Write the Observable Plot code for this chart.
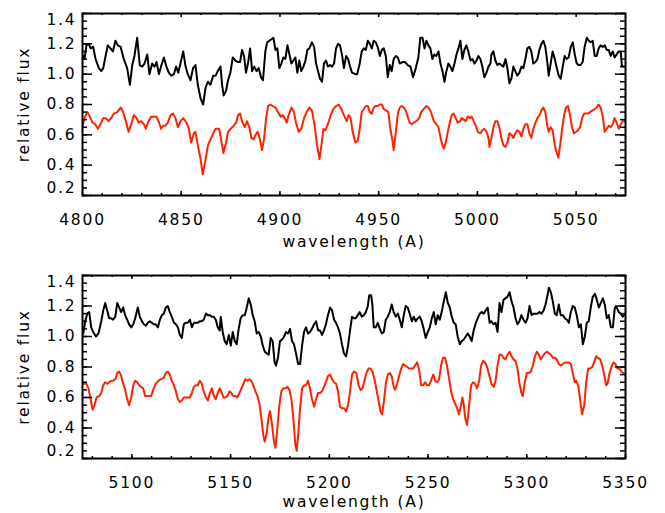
<!DOCTYPE html>
<html><head><meta charset="utf-8">
<script src="https://cdn.jsdelivr.net/npm/d3@7"></script>
<script src="https://cdn.jsdelivr.net/npm/@observablehq/plot@0.6"></script>
<style>
html,body{margin:0;padding:0;background:#fff;}
#chart svg{display:block;}
#chart text{letter-spacing:1.8px;}
</style></head><body><div id="chart"></div>
<script>
// ---- data: [wavelength (A), relative flux] ----
const topObserved = [[4800.4,1.12],[4801.0,1.10],[4802.0,1.19],[4803.2,1.20],[4804.1,1.17],[4805.4,1.18],[4806.6,1.10],[4808.3,1.04],[4809.5,1.02],[4810.5,1.04],[4811.7,1.12],[4812.8,1.19],[4814.2,1.17],[4815.4,1.15],[4816.7,1.22],[4817.9,1.19],[4819.3,1.18],[4820.9,1.10],[4822.6,1.04],[4824.0,0.93],[4825.2,1.06],[4826.3,1.12],[4827.7,1.24],[4829.0,1.06],[4830.2,1.05],[4831.4,1.07],[4832.8,1.13],[4833.9,1.00],[4835.3,1.07],[4836.5,1.05],[4837.5,1.08],[4838.7,1.00],[4840.0,1.06],[4841.2,1.11],[4842.5,1.05],[4843.7,1.01],[4844.9,0.99],[4846.3,1.00],[4847.4,1.05],[4848.5,1.01],[4849.6,1.07],[4851.0,1.15],[4852.2,1.05],[4853.3,1.00],[4854.7,0.96],[4856.0,1.04],[4857.2,1.06],[4858.4,0.93],[4859.8,0.84],[4861.1,0.80],[4862.3,0.91],[4863.5,0.95],[4864.8,0.93],[4866.2,0.99],[4867.4,0.99],[4868.5,1.02],[4869.9,1.05],
[4870.7,0.93],[4871.5,0.86],[4872.7,0.89],[4873.7,0.96],[4874.9,1.01],[4876.1,1.11],[4877.4,1.09],[4878.8,1.08],[4879.8,1.08],[4880.8,1.16],[4881.8,1.12],[4882.8,1.01],[4883.8,1.07],[4884.9,1.17],[4885.9,1.02],[4887.0,1.05],[4888.1,1.02],[4889.2,1.04],[4890.4,0.98],[4891.4,0.96],[4892.6,1.15],[4893.5,1.21],[4894.6,1.22],[4895.7,1.23],[4896.7,1.24],[4897.7,1.16],[4898.7,1.17],[4899.7,1.04],[4900.7,1.07],[4901.7,1.11],[4902.7,1.10],[4903.8,1.19],[4904.8,1.13],[4905.8,1.07],[4906.8,1.09],[4907.8,1.11],[4908.8,1.01],[4909.8,1.09],[4910.8,1.02],[4911.9,1.05],[4912.9,1.09],[4913.9,1.16],[4914.9,1.17],[4916.2,1.21],[4917.3,1.18],[4918.3,1.07],[4919.3,1.02],[4920.3,0.97],[4921.3,0.95],[4922.3,1.07],[4923.3,1.09],[4924.3,1.05],[4925.4,1.06],[4926.4,1.05],[4927.4,1.07],[4928.4,1.17],[4929.4,1.20],[4930.4,1.19],[4931.4,1.13],[4932.4,1.04],[4933.5,1.12],[4934.5,1.10],[4935.5,1.05],[4936.5,1.01],[4938.2,1.00],
[4939.1,1.00],[4940.4,1.07],[4941.4,1.15],[4942.5,1.17],[4943.5,1.16],[4944.5,1.22],[4945.5,1.20],[4946.5,1.17],[4947.5,1.22],[4948.5,1.21],[4949.5,1.18],[4950.6,1.12],[4951.6,1.16],[4952.6,1.17],[4953.6,1.12],[4954.6,0.98],[4955.6,1.06],[4956.6,1.02],[4957.6,1.10],[4958.7,1.12],[4959.7,1.11],[4960.7,1.07],[4962.0,1.08],[4963.4,1.08],[4964.7,1.06],[4966.1,1.05],[4967.4,0.98],[4968.8,1.04],[4970.1,1.11],[4971.1,1.24],[4972.2,1.24],[4973.2,1.17],[4974.2,1.22],[4975.2,1.19],[4976.2,1.17],[4977.2,1.10],[4978.2,1.13],[4979.2,1.12],[4980.3,1.15],[4981.3,1.07],[4982.3,1.02],[4983.3,0.95],[4984.3,1.02],[4985.3,1.07],[4986.3,1.05],[4987.3,1.02],[4988.4,1.07],[4989.4,1.13],[4990.4,1.17],[4991.4,1.22],[4992.4,1.10],[4993.4,1.16],[4994.4,1.19],[4995.4,1.15],[4996.5,1.09],[4997.5,1.10],[4998.5,1.07],[4999.5,1.09],[5000.5,1.12],[5001.5,1.10],[5002.5,1.05],[5003.5,0.98],[5004.6,1.01],[5005.6,1.05],[5006.6,1.07],
[5007.1,1.13],[5008.1,1.15],[5009.1,1.09],[5010.1,1.06],[5011.1,1.07],[5012.1,1.06],[5013.2,1.05],[5014.2,1.10],[5015.2,1.04],[5016.2,0.94],[5017.2,0.97],[5018.2,1.05],[5019.2,1.02],[5020.2,0.99],[5021.3,1.01],[5022.3,1.05],[5023.3,1.04],[5024.3,1.10],[5025.3,1.17],[5026.3,1.18],[5027.3,1.15],[5028.3,1.07],[5029.4,1.08],[5030.4,1.10],[5031.4,1.16],[5032.4,1.20],[5033.4,1.22],[5034.4,1.18],[5035.4,1.08],[5036.1,0.99],[5037.1,1.07],[5038.1,1.15],[5039.2,1.10],[5040.2,1.04],[5041.2,0.99],[5042.2,0.97],[5043.2,1.05],[5044.2,1.12],[5045.2,1.10],[5046.2,1.11],[5047.3,1.18],[5048.3,1.21],[5049.3,1.13],[5050.3,1.07],[5051.3,1.06],[5052.3,1.06],[5053.3,1.08],[5054.3,1.18],[5055.4,1.24],[5056.4,1.22],[5057.4,1.21],[5058.4,1.22],[5059.4,1.12],[5060.4,1.12],[5061.4,1.17],[5062.4,1.19],[5063.5,1.18],[5064.5,1.19],[5065.5,1.16],[5066.5,1.16],[5067.5,1.12],[5068.5,1.15],[5069.5,1.11],[5070.5,1.13],[5071.6,1.15],[5072.6,1.15],[5073.2,1.05],[5074.1,1.05]];

const topModel = [[4800.0,0.65],[4801.0,0.71],[4802.4,0.75],[4803.7,0.72],[4805.1,0.68],[4806.4,0.67],[4807.8,0.64],[4809.1,0.67],[4810.5,0.71],[4811.8,0.71],[4813.2,0.69],[4814.5,0.71],[4815.9,0.74],[4817.6,0.75],[4819.3,0.78],[4820.6,0.75],[4822.0,0.69],[4823.3,0.62],[4824.7,0.67],[4826.0,0.73],[4827.4,0.71],[4828.5,0.68],[4829.7,0.69],[4831.1,0.67],[4832.1,0.64],[4833.4,0.69],[4834.8,0.72],[4836.1,0.72],[4837.5,0.72],[4838.8,0.68],[4839.8,0.64],[4840.8,0.66],[4842.0,0.66],[4843.2,0.68],[4844.6,0.73],[4845.9,0.74],[4847.1,0.71],[4848.3,0.65],[4849.6,0.69],[4851.0,0.71],[4852.7,0.68],[4853.9,0.64],[4855.0,0.55],[4856.4,0.61],[4857.2,0.62],[4858.4,0.53],[4859.8,0.44],[4860.9,0.34],[4862.1,0.42],[4863.5,0.53],[4864.8,0.57],[4866.2,0.61],[4867.4,0.64],[4868.5,0.64],[4869.2,0.64],
[4870.2,0.57],[4871.4,0.48],[4872.7,0.55],[4873.7,0.62],[4875.1,0.64],[4876.6,0.66],[4877.8,0.68],[4878.8,0.73],[4879.8,0.74],[4880.8,0.69],[4882.2,0.65],[4883.3,0.69],[4884.5,0.65],[4885.5,0.58],[4886.7,0.57],[4887.7,0.60],[4888.7,0.62],[4889.7,0.58],[4890.9,0.50],[4891.9,0.57],[4893.0,0.71],[4894.0,0.79],[4895.1,0.80],[4896.3,0.79],[4897.7,0.78],[4899.0,0.75],[4900.4,0.72],[4901.4,0.73],[4902.4,0.71],[4903.4,0.68],[4904.4,0.73],[4905.8,0.78],[4907.1,0.75],[4908.1,0.68],[4909.5,0.62],[4910.8,0.64],[4912.2,0.71],[4913.5,0.75],[4914.9,0.78],[4916.2,0.76],[4917.6,0.66],[4918.6,0.55],[4920.0,0.44],[4921.0,0.53],[4922.0,0.64],[4923.0,0.63],[4924.3,0.67],[4925.7,0.73],[4927.0,0.77],[4928.4,0.79],[4929.7,0.80],[4931.1,0.77],[4932.4,0.73],[4933.8,0.69],[4934.8,0.73],[4935.8,0.71],[4936.8,0.62],[4938.2,0.55],
[4939.4,0.56],[4940.4,0.64],[4941.4,0.75],[4942.5,0.77],[4943.5,0.79],[4944.5,0.79],[4945.5,0.75],[4946.5,0.74],[4947.5,0.78],[4948.5,0.79],[4949.5,0.79],[4950.6,0.80],[4951.6,0.80],[4952.6,0.77],[4953.9,0.76],[4954.9,0.75],[4955.9,0.64],[4957.0,0.56],[4957.6,0.50],[4958.7,0.62],[4959.7,0.74],[4960.7,0.78],[4961.7,0.79],[4962.7,0.78],[4963.7,0.76],[4964.7,0.72],[4965.7,0.68],[4966.8,0.67],[4967.8,0.68],[4969.1,0.69],[4970.5,0.71],[4971.5,0.75],[4972.8,0.77],[4974.2,0.79],[4975.2,0.78],[4976.5,0.75],[4977.9,0.69],[4979.2,0.67],[4980.3,0.65],[4981.3,0.58],[4982.3,0.53],[4983.0,0.51],[4984.0,0.55],[4985.0,0.62],[4986.0,0.68],[4987.0,0.73],[4988.0,0.74],[4989.0,0.71],[4990.0,0.68],[4991.1,0.69],[4992.1,0.71],[4993.1,0.70],[4994.1,0.69],[4995.1,0.72],[4996.1,0.71],[4997.1,0.72],[4998.1,0.69],[4999.2,0.66],[5000.2,0.62],[5001.5,0.61],[5002.5,0.63],[5003.5,0.64],[5004.6,0.62],[5005.6,0.58],
[5006.1,0.52],[5007.1,0.58],[5008.1,0.65],[5009.1,0.69],[5010.1,0.69],[5011.1,0.65],[5012.1,0.58],[5013.2,0.53],[5014.2,0.52],[5015.2,0.55],[5016.2,0.61],[5017.2,0.60],[5018.2,0.58],[5019.2,0.61],[5020.2,0.63],[5021.3,0.62],[5022.3,0.59],[5023.3,0.64],[5024.3,0.67],[5025.3,0.67],[5026.3,0.61],[5027.3,0.58],[5028.3,0.64],[5029.4,0.68],[5030.4,0.71],[5031.4,0.73],[5032.4,0.76],[5033.4,0.78],[5034.4,0.75],[5035.4,0.66],[5036.1,0.62],[5037.1,0.65],[5038.1,0.63],[5039.2,0.53],[5040.2,0.48],[5041.0,0.45],[5041.9,0.53],[5042.9,0.64],[5043.9,0.73],[5044.9,0.78],[5045.9,0.79],[5046.9,0.73],[5047.9,0.65],[5048.9,0.61],[5050.0,0.62],[5051.0,0.63],[5052.0,0.65],[5053.0,0.71],[5054.0,0.74],[5055.0,0.74],[5056.0,0.74],[5057.0,0.75],[5058.1,0.76],[5059.4,0.77],[5060.4,0.78],[5061.4,0.80],[5062.4,0.78],[5063.5,0.72],[5064.5,0.62],[5065.5,0.64],[5066.5,0.66],[5067.5,0.65],[5068.5,0.67],[5069.5,0.71],[5070.5,0.68],[5071.6,0.64],[5072.6,0.67],[5073.6,0.69],[5074.6,0.69]];

const bottomObserved = [[5075.4,1.02],[5076.4,1.10],[5077.4,1.15],[5078.4,1.16],[5079.4,1.06],[5080.4,1.03],[5081.8,1.00],[5083.1,1.02],[5084.5,1.10],[5085.5,1.17],[5086.5,1.22],[5087.5,1.17],[5088.5,1.12],[5089.5,1.12],[5090.5,1.11],[5091.6,1.13],[5092.6,1.22],[5093.6,1.19],[5094.6,1.16],[5095.6,1.19],[5096.6,1.14],[5097.6,1.11],[5098.6,1.08],[5099.7,1.06],[5100.7,1.08],[5101.7,1.12],[5103.0,1.19],[5104.0,1.13],[5105.1,1.10],[5106.1,1.08],[5107.1,1.07],[5108.1,1.09],[5109.1,1.10],[5110.1,1.09],[5111.1,1.08],[5112.1,1.08],[5113.2,1.06],[5114.2,1.11],[5115.2,1.14],[5116.2,1.15],[5117.2,1.19],[5118.2,1.20],[5119.2,1.16],[5120.2,1.13],[5121.3,1.09],[5122.3,1.08],[5123.3,1.06],[5124.3,1.01],[5125.3,0.99],[5126.3,1.08],[5127.3,1.09],[5128.3,1.09],[5129.4,1.11],[5130.4,1.06],[5131.4,1.09],[5132.4,1.09],[5133.4,1.09],[5134.4,1.10],[5135.4,1.10],[5136.4,1.11],[5137.5,1.15],[5138.5,1.14],[5139.5,1.14],[5140.5,1.13],[5141.5,1.13],[5142.5,1.11],[5143.5,1.06],[5144.5,1.04],
[5145.0,1.13],[5146.0,1.03],[5147.0,0.97],[5148.0,0.95],[5149.1,1.01],[5150.1,0.94],[5151.1,1.03],[5152.1,0.97],[5153.1,0.95],[5154.1,1.05],[5155.1,1.12],[5156.1,1.14],[5157.2,1.14],[5158.2,1.19],[5159.2,1.25],[5160.2,1.21],[5161.2,1.14],[5162.2,1.10],[5163.2,1.02],[5164.2,1.03],[5165.3,1.00],[5166.3,0.94],[5167.3,0.90],[5168.3,0.89],[5169.3,0.88],[5170.3,0.99],[5171.3,0.97],[5172.3,0.83],[5173.0,0.81],[5174.0,0.86],[5175.0,0.97],[5176.1,0.98],[5177.1,1.00],[5178.1,1.03],[5179.1,1.02],[5180.1,1.05],[5181.1,0.97],[5182.1,0.95],[5183.1,0.89],[5184.2,0.82],[5185.2,0.82],[5186.2,0.94],[5187.2,1.03],[5188.2,1.06],[5189.2,1.02],[5190.2,1.03],[5191.2,1.05],[5192.3,1.08],[5193.3,1.10],[5194.3,1.04],[5195.3,1.04],[5196.3,1.01],[5197.3,1.04],[5198.3,1.08],[5199.3,1.14],[5200.4,1.19],[5201.4,1.17],[5202.4,1.11],[5203.4,1.09],[5204.4,1.06],[5205.4,1.02],[5206.4,0.95],[5207.4,0.89],[5208.5,0.87],[5209.5,0.94],[5210.5,1.04],[5211.5,1.13],[5212.5,1.12],
[5213.4,1.12],[5214.4,1.14],[5215.4,1.16],[5216.4,1.13],[5217.5,1.14],[5218.5,1.16],[5219.5,1.20],[5220.2,1.27],[5221.2,1.27],[5221.8,1.21],[5222.5,1.06],[5223.5,1.06],[5224.5,1.09],[5225.6,1.05],[5226.6,1.02],[5227.6,1.03],[5228.6,1.11],[5229.6,1.13],[5230.6,1.16],[5231.6,1.21],[5232.6,1.16],[5233.7,1.13],[5234.7,1.15],[5235.7,1.11],[5236.7,1.06],[5237.7,1.14],[5238.7,1.20],[5239.7,1.19],[5240.7,1.15],[5241.8,1.10],[5242.8,1.13],[5243.8,1.10],[5244.8,1.12],[5245.8,1.13],[5246.8,1.10],[5247.8,1.05],[5248.8,0.99],[5249.9,1.03],[5250.9,1.06],[5251.9,1.12],[5252.9,1.16],[5253.9,1.08],[5254.9,1.14],[5255.9,1.11],[5256.9,1.16],[5258.0,1.23],[5259.0,1.29],[5260.0,1.22],[5261.0,1.19],[5262.0,1.13],[5263.0,1.09],[5264.0,1.08],[5265.0,1.00],[5266.1,0.95],[5267.1,0.97],[5268.1,0.98],[5269.1,1.00],[5270.1,1.02],[5271.1,1.00],[5272.1,0.97],[5273.1,1.04],[5274.2,1.09],[5275.2,1.12],[5276.2,1.15],[5277.2,1.16],[5278.2,1.15],[5279.2,1.17],[5280.2,1.19],[5281.2,1.09],
[5282.1,1.10],[5283.2,1.08],[5284.2,1.09],[5285.2,1.03],[5286.2,1.22],[5287.2,1.16],[5288.2,1.24],[5289.2,1.25],[5290.2,1.26],[5291.3,1.29],[5292.3,1.23],[5293.3,1.19],[5294.3,1.12],[5295.3,1.08],[5296.3,1.10],[5297.3,1.14],[5298.3,1.11],[5299.4,1.09],[5300.4,1.12],[5301.4,1.20],[5302.4,1.14],[5303.4,1.15],[5304.4,1.15],[5305.4,1.15],[5306.4,1.16],[5307.5,1.15],[5308.5,1.17],[5309.5,1.21],[5310.5,1.27],[5311.2,1.32],[5312.2,1.29],[5313.2,1.23],[5314.2,1.15],[5315.2,1.14],[5316.2,1.21],[5317.2,1.14],[5318.3,1.14],[5319.3,1.12],[5320.3,1.11],[5321.3,1.09],[5322.3,1.16],[5323.3,1.20],[5324.3,1.19],[5325.3,1.14],[5326.4,1.06],[5327.4,1.08],[5328.4,0.95],[5329.4,1.00],[5330.4,1.09],[5331.4,1.10],[5332.4,1.19],[5333.4,1.26],[5334.5,1.28],[5335.5,1.24],[5336.5,1.19],[5337.5,1.22],[5338.5,1.25],[5339.5,1.21],[5340.5,1.12],[5341.5,1.14],[5342.6,1.06],[5343.6,1.06],[5344.6,1.19],[5345.6,1.19],[5346.6,1.16],[5347.6,1.15],[5348.6,1.13],[5349.3,1.14]];

const bottomModel = [[5075.0,0.69],[5076.0,0.69],[5077.0,0.69],[5078.0,0.66],[5079.1,0.59],[5080.1,0.52],[5081.1,0.55],[5082.1,0.60],[5083.5,0.61],[5084.5,0.63],[5085.5,0.68],[5086.5,0.70],[5087.5,0.69],[5088.5,0.70],[5089.5,0.71],[5090.5,0.71],[5091.6,0.72],[5092.6,0.76],[5093.6,0.77],[5094.6,0.74],[5095.6,0.69],[5096.6,0.65],[5097.6,0.59],[5098.6,0.55],[5099.7,0.60],[5100.7,0.68],[5101.7,0.71],[5102.7,0.70],[5103.7,0.68],[5104.7,0.67],[5105.7,0.66],[5106.7,0.61],[5107.8,0.61],[5108.8,0.61],[5109.8,0.61],[5110.8,0.65],[5112.1,0.69],[5113.5,0.71],[5114.8,0.72],[5116.2,0.73],[5117.2,0.76],[5118.2,0.77],[5119.2,0.75],[5120.2,0.71],[5121.3,0.68],[5122.3,0.64],[5123.3,0.59],[5124.3,0.57],[5125.3,0.58],[5126.3,0.60],[5127.3,0.60],[5128.3,0.60],[5129.4,0.60],[5130.4,0.63],[5131.4,0.67],[5132.4,0.68],[5133.4,0.68],[5134.4,0.71],[5135.4,0.69],[5136.4,0.64],[5137.5,0.60],[5138.5,0.58],[5139.5,0.63],[5140.5,0.66],[5141.5,0.61],[5142.5,0.59],[5143.5,0.63],[5144.5,0.66],
[5145.3,0.64],[5146.4,0.60],[5147.4,0.60],[5148.4,0.61],[5149.4,0.64],[5150.4,0.63],[5151.4,0.61],[5152.4,0.61],[5153.4,0.60],[5154.5,0.63],[5155.5,0.66],[5156.5,0.69],[5157.5,0.72],[5158.5,0.71],[5159.5,0.72],[5160.5,0.71],[5161.5,0.68],[5162.6,0.64],[5163.6,0.61],[5164.6,0.56],[5165.6,0.46],[5166.6,0.35],[5167.3,0.31],[5168.3,0.37],[5169.3,0.48],[5170.0,0.51],[5171.0,0.42],[5172.0,0.31],[5172.7,0.27],[5173.7,0.40],[5174.7,0.55],[5175.7,0.64],[5176.7,0.66],[5177.7,0.66],[5178.8,0.67],[5179.8,0.65],[5180.8,0.59],[5181.8,0.46],[5182.8,0.29],[5183.5,0.25],[5184.2,0.35],[5185.2,0.53],[5186.2,0.66],[5187.2,0.68],[5188.2,0.68],[5189.2,0.71],[5190.2,0.66],[5191.2,0.59],[5192.3,0.54],[5193.3,0.59],[5194.3,0.63],[5195.3,0.63],[5196.3,0.64],[5197.3,0.67],[5198.3,0.70],[5199.3,0.74],[5200.4,0.75],[5201.4,0.72],[5202.4,0.70],[5203.4,0.69],[5204.4,0.64],[5205.4,0.54],[5206.4,0.53],[5207.4,0.53],[5208.5,0.51],[5209.5,0.55],[5210.5,0.64],[5211.5,0.75],[5212.5,0.77],
[5213.7,0.76],[5214.8,0.68],[5215.8,0.65],[5216.8,0.66],[5217.8,0.71],[5218.8,0.76],[5219.8,0.79],[5220.8,0.79],[5221.8,0.77],[5222.9,0.72],[5223.9,0.65],[5224.9,0.58],[5225.9,0.51],[5226.7,0.49],[5227.6,0.57],[5228.6,0.69],[5229.6,0.75],[5230.6,0.76],[5231.6,0.74],[5232.6,0.67],[5233.3,0.65],[5234.3,0.69],[5235.3,0.74],[5236.4,0.79],[5237.4,0.82],[5238.4,0.81],[5239.4,0.80],[5240.4,0.79],[5241.4,0.79],[5242.4,0.79],[5243.4,0.81],[5244.5,0.83],[5245.5,0.78],[5246.5,0.68],[5247.5,0.68],[5248.5,0.70],[5249.5,0.68],[5250.5,0.68],[5251.5,0.71],[5252.6,0.75],[5253.6,0.71],[5254.6,0.70],[5255.6,0.72],[5256.6,0.81],[5257.6,0.86],[5258.6,0.86],[5259.6,0.81],[5260.7,0.72],[5261.7,0.64],[5262.7,0.59],[5263.7,0.56],[5264.7,0.53],[5265.7,0.49],[5266.7,0.55],[5267.4,0.60],[5268.1,0.55],[5268.9,0.46],[5269.8,0.42],[5270.8,0.55],[5271.8,0.68],[5272.8,0.70],[5273.8,0.69],[5274.8,0.66],[5275.9,0.71],[5276.9,0.81],[5277.9,0.84],[5278.9,0.83],[5279.9,0.80],[5280.9,0.75],
[5282.1,0.69],[5283.2,0.67],[5284.2,0.71],[5285.2,0.81],[5286.2,0.88],[5287.2,0.88],[5288.2,0.86],[5289.2,0.85],[5290.2,0.88],[5291.3,0.90],[5292.3,0.87],[5293.3,0.85],[5294.3,0.84],[5295.3,0.79],[5296.3,0.69],[5297.3,0.63],[5298.0,0.61],[5299.0,0.70],[5300.0,0.76],[5301.0,0.76],[5302.1,0.77],[5303.1,0.81],[5304.1,0.87],[5305.1,0.90],[5306.1,0.88],[5307.1,0.85],[5308.1,0.87],[5309.1,0.89],[5310.2,0.90],[5311.2,0.89],[5312.2,0.88],[5313.2,0.86],[5314.2,0.86],[5315.2,0.85],[5316.2,0.82],[5317.2,0.81],[5318.3,0.82],[5319.3,0.83],[5320.3,0.83],[5321.3,0.83],[5322.3,0.82],[5323.3,0.76],[5324.3,0.70],[5325.0,0.71],[5326.0,0.68],[5327.0,0.59],[5328.0,0.49],[5329.1,0.55],[5330.1,0.70],[5331.1,0.79],[5332.1,0.79],[5333.1,0.80],[5334.1,0.83],[5335.1,0.87],[5336.1,0.86],[5337.2,0.85],[5338.2,0.81],[5339.2,0.75],[5340.2,0.68],[5340.9,0.69],[5341.9,0.76],[5342.9,0.80],[5343.9,0.83],[5344.9,0.82],[5345.9,0.79],[5346.9,0.79],[5347.9,0.77],[5348.9,0.76],[5349.6,0.75]];

// ---- axes ----
const topXDomain = [4800, 5075];
const bottomXDomain = [5075, 5350];
const topXTicks = [4800, 4850, 4900, 4950, 5000, 5050];
const bottomXTicks = [5100, 5150, 5200, 5250, 5300, 5350];
const yDomain = [0.2, 1.4];
const yTicks = [0.2, 0.4, 0.6, 0.8, 1.0, 1.2, 1.4];
const xLabel = "wavelength (A)";
const yLabel = "relative flux";

const RED = "#ff2200";
const W = 665, ML = 82, MR = 40;

function panel(observed, model, xDomain, xTicks, height, mt, mb, labelDy) {
  const H = height - mt - mb;
  const IW = W - ML - MR;
  const xMinor = d3.range(Math.ceil(xDomain[0] / 10) * 10, xDomain[1] + 0.001, 10);
  const yMinor = d3.range(0.2, 1.4001, 0.05);
  const fmtY = d3.format(".1f");
  const tickStroke = {stroke: "black", strokeWidth: 1.5};
  return Plot.plot({
    width: W, height,
    marginLeft: ML, marginRight: MR, marginTop: mt, marginBottom: mb,
    x: {domain: xDomain},
    y: {domain: yDomain},
    style: {fontFamily: "'DejaVu Sans', sans-serif", fontSize: "15.5px", color: "black", background: "white"},
    marks: [
      Plot.line(model, {x: d => d[0], y: d => d[1], stroke: RED, strokeWidth: 2, clip: true}),
      Plot.line(observed, {x: d => d[0], y: d => d[1], stroke: "black", strokeWidth: 2, clip: true}),
      // x ticks (bottom & top), inward
      Plot.ruleX(xMinor, {...tickStroke, insetTop: H - 2}),
      Plot.ruleX(xMinor, {...tickStroke, insetBottom: H - 2}),
      Plot.ruleX(xTicks, {...tickStroke, insetTop: H - 4}),
      Plot.ruleX(xTicks, {...tickStroke, insetBottom: H - 4}),
      // y ticks (left & right), inward
      Plot.ruleY(yMinor, {...tickStroke, insetRight: IW - 5}),
      Plot.ruleY(yMinor, {...tickStroke, insetLeft: IW - 5}),
      Plot.ruleY(yTicks, {...tickStroke, insetRight: IW - 10}),
      Plot.ruleY(yTicks, {...tickStroke, insetLeft: IW - 10}),
      Plot.frame({stroke: "black", strokeWidth: 2}),
      Plot.axisX(xTicks, {tickSize: 0, tickPadding: 18, label: null, tickFormat: d => String(d)}),
      Plot.axisY(yTicks.slice(1, -1), {tickSize: 0, tickPadding: 6, label: null, tickFormat: fmtY}),
      Plot.axisY([yTicks[yTicks.length - 1]], {tickSize: 0, tickPadding: 6, label: null, tickFormat: fmtY, dy: 7}),
      Plot.axisY([yTicks[0]], {tickSize: 0, tickPadding: 6, label: null, tickFormat: fmtY, dy: -7}),
      Plot.text([xLabel], {frameAnchor: "bottom", dy: labelDy, textAnchor: "middle", lineAnchor: "middle", fill: "black"}),
      Plot.text([yLabel], {frameAnchor: "left", dx: -58, rotate: -90, textAnchor: "middle", lineAnchor: "middle", fill: "black"})
    ]
  });
}

const root = document.getElementById("chart");
root.appendChild(panel(topObserved, topModel, topXDomain, topXTicks, 260, 13, 65, 47));
root.appendChild(panel(bottomObserved, bottomModel, bottomXDomain, bottomXTicks, 253, 15, 55, 44));
</script>
</body></html>
